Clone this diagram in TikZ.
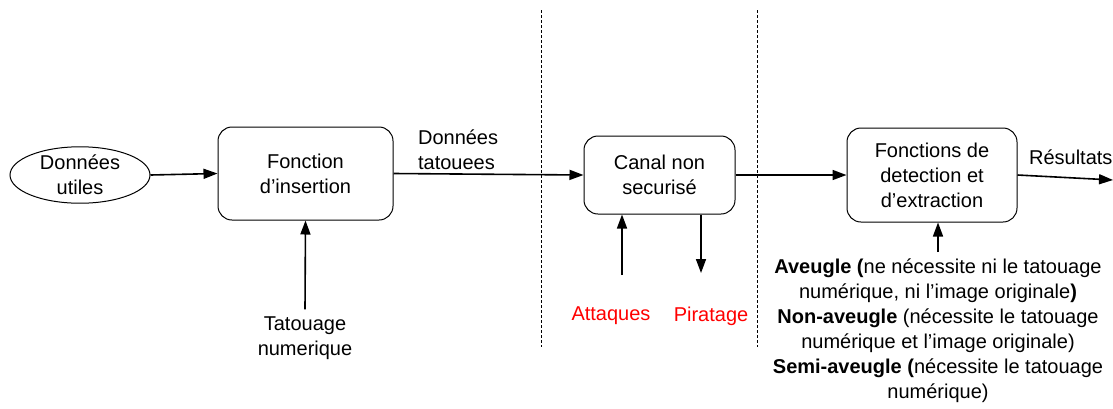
\documentclass[tikz,border=0pt]{standalone}
\usepackage{fontspec}
\setmainfont{Liberation Sans}
\usetikzlibrary{arrows.meta,shapes.geometric}

\begin{document}
\begin{tikzpicture}[x=.5pt,y=-.5pt,font=\fontsize{10}{12.5}\selectfont,
    bloc/.style={draw, rounded corners=7pt, align=center, line width=.5pt},
    fleche/.style={-{Triangle[length=7pt,width=5pt]}, line width=.8pt}]
             \useasboundingbox (0,0) rectangle (1113,408);

             \node[draw, ellipse, minimum width=70pt, minimum height=28pt, inner sep=0pt, align=center, line width=.5pt] (utiles) at (80,175) {Données\\utiles};
             \node[bloc, minimum width=87.5pt, minimum height=46.5pt] (insertion) at (305.5,173.5) {Fonction\\d’insertion};
             \node[bloc, minimum width=75.5pt, minimum height=39pt] (canal) at (659.5,175) {Canal non\\securisé};
             \node[bloc, minimum width=85pt, minimum height=47pt] (detection) at (932,175) {Fonctions de\\detection et\\d’extraction};

             \node[draw=none, anchor=west, align=left] (tatouees) at (411,150) {Données\\tatouees};
             \node[draw=none, anchor=west] (resultats) at (1022,157) {Résultats};
             \node[draw=none, align=center] (tatouage) at (305,338) {Tatouage\\numerique};
             \node[draw=none, text=red] (attaques) at (611,316) {Attaques};
             \node[draw=none, text=red] (piratage) at (711,316) {Piratage};
             \node[draw=none, align=center] (criteres) at (938,331) {\textbf{Aveugle (}ne nécessite ni le tatouage\\numérique, ni l’image originale\textbf{)}\\\textbf{Non-aveugle} (nécessite le tatouage\\numérique et l’image originale)\\\textbf{Semi-aveugle (}nécessite le tatouage\\numérique)};

             \coordinate (att) at (622,275);
             \coordinate (pir) at (701,273);
             \coordinate (sortie) at (1113,180);

             % zones
             \draw[dash pattern=on 1.5pt off 1pt, line width=.4pt] (541,10) -- (541,347);
             \draw[dash pattern=on 1.5pt off 1pt, line width=.4pt] (757,10) -- (757,347);

             \draw[fleche] (utiles.east) -- (insertion.west);
             \draw[fleche] (tatouage.north) -- (insertion.south);
             \draw[fleche] (insertion.east) -- (canal.west);
             \draw[fleche] (att) -- (att |- canal.south);
             \draw[fleche] (pir |- canal.south) -- (pir);
             \draw[fleche] (canal.east) -- (detection.west);
             \draw[fleche] (criteres.north) -- (criteres.north |- detection.south);
             \draw[fleche] (detection.east) -- (sortie);
             \end{tikzpicture}
\end{document}
